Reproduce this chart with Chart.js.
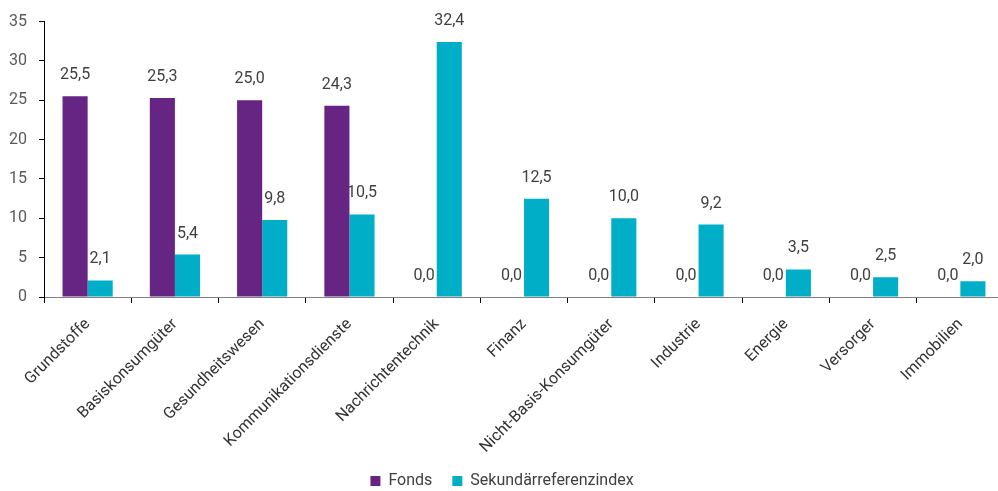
<!DOCTYPE html>
<html>
<head>
<meta charset="utf-8">
<script src="https://cdn.jsdelivr.net/npm/chart.js@4"></script>
<style>
  html, body { margin: 0; padding: 0; background: #fff; overflow: hidden; }
  #wrap { width: 1010px; height: 499px; position: relative; }
</style>
</head>
<body>
<div id="wrap"><canvas id="c"></canvas></div>
<script>
const categories = ["Grundstoffe", "Basiskonsumgüter", "Gesundheitswesen", "Kommunikationsdienste", "Nachrichtentechnik", "Finanz", "Nicht-Basis-Konsumgüter", "Industrie", "Energie", "Versorger", "Immobilien"];
const fonds = [25.5, 25.3, 25.0, 24.3, 0.0, 0.0, 0.0, 0.0, 0.0, 0.0, 0.0];
const sekundaer = [2.1, 5.4, 9.8, 10.5, 32.4, 12.5, 10.0, 9.2, 3.5, 2.5, 2.0];
const yTicks = [0, 5, 10, 15, 20, 25, 30, 35];
const seriesNames = ["Fonds", "Sekundärreferenzindex"];

const FONT = "Roboto";

const valueLabels = {
  id: 'valueLabels',
  afterDatasetsDraw(chart) {
    const ctx = chart.ctx;
    ctx.save();
    ctx.font = "16px " + FONT;
    ctx.fillStyle = "#404040";
    ctx.textAlign = "center";
    ctx.textBaseline = "middle";
    chart.data.datasets.forEach((ds, di) => {
      const meta = chart.getDatasetMeta(di);
      meta.data.forEach((bar, i) => {
        const v = ds.data[i];
        ctx.fillText(v.toFixed(1).replace('.', ','), bar.x, bar.y - 21);
      });
    });
    ctx.restore();
  }
};

new Chart(document.getElementById('c'), {
  type: 'bar',
  data: {
    labels: categories,
    datasets: [
      { label: seriesNames[0], data: fonds, backgroundColor: '#662483', borderWidth: 0, categoryPercentage: 0.575, barPercentage: 1.0 },
      { label: seriesNames[1], data: sekundaer, backgroundColor: '#00AEC7', borderWidth: 0, categoryPercentage: 0.575, barPercentage: 1.0 }
    ]
  },
  options: {
    responsive: true,
    maintainAspectRatio: false,
    animation: false,
    layout: { padding: { top: 20, right: 6, left: 0, bottom: 0 } },
    plugins: {
      legend: {
        position: 'bottom',
        labels: {
          font: { family: FONT, size: 16 },
          color: '#404040',
          boxWidth: 10,
          boxHeight: 10,
          padding: 20
        }
      },
      tooltip: { enabled: false }
    },
    scales: {
      x: {
        offset: true,
        grid: { display: true, drawOnChartArea: false, drawTicks: true, tickLength: 6, color: '#000', offset: true },
        border: { display: true, color: '#808080', width: 1 },
        ticks: {
          font: { family: FONT, size: 16 },
          color: '#333',
          minRotation: 45,
          maxRotation: 45,
          autoSkip: false,
          padding: 12
        },
        afterFit(scale) { scale.height = 156; }
      },
      y: {
        min: 0,
        max: 35,
        afterBuildTicks(scale) { scale.ticks = yTicks.map(v => ({ value: v })); },
        grid: { display: true, drawOnChartArea: false, drawTicks: true, tickLength: 5, color: '#000' },
        border: { display: true, color: '#000', width: 1 },
        ticks: {
          font: { family: FONT, size: 16 },
          color: '#595959',
          padding: 12
        },
        afterFit(scale) { scale.width = 44; }
      }
    }
  },
  plugins: [valueLabels]
});
</script>
</body>
</html>
